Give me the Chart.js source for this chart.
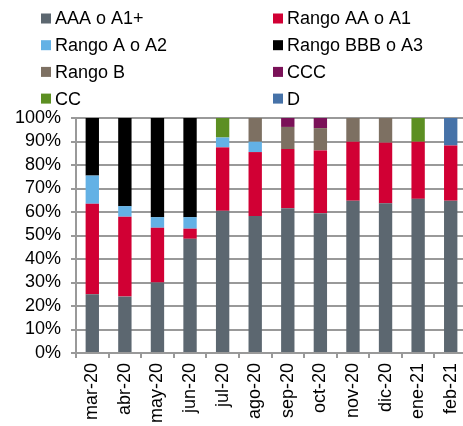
<!DOCTYPE html>
<html>
<head>
<meta charset="utf-8">
<script src="https://cdn.jsdelivr.net/npm/chart.js@4/dist/chart.umd.min.js"></script>
<style>
  html, body { margin: 0; padding: 0; background: #fff; overflow: hidden; }
</style>
</head>
<body>
<canvas id="grafico" width="467" height="426"></canvas>
<script>
// categorias y valores (% de la cartera por calificacion)
const meses = ['mar-20', 'abr-20', 'may-20', 'jun-20', 'jul-20', 'ago-20', 'sep-20', 'oct-20', 'nov-20', 'dic-20', 'ene-21', 'feb-21'];
const aaa = [25, 24, 30, 48.6, 60.5, 58.3, 61.6, 59.5, 64.8, 63.7, 65.6, 64.8];
const rangoAA = [38.5, 34, 23.3, 4.3, 27, 27.2, 25.2, 26.7, 25.1, 25.8, 24.3, 23.5];
const rangoA = [12, 4.5, 4.5, 4.9, 4.2, 4.4, 0, 0, 0, 0, 0, 0];
const rangoBBB = [24.5, 37.5, 42.2, 42.2, 0, 0, 0, 0, 0, 0, 0, 0];
const rangoB = [0, 0, 0, 0, 0, 10.1, 9.4, 9.5, 10.1, 10.5, 0, 0];
const ccc = [0, 0, 0, 0, 0, 0, 3.8, 4.3, 0, 0, 0, 0];
const cc = [0, 0, 0, 0, 8.3, 0, 0, 0, 0, 0, 10.1, 0];
const d = [0, 0, 0, 0, 0, 0, 0, 0, 0, 0, 0, 11.7];
const ticksY = [0, 10, 20, 30, 40, 50, 60, 70, 80, 90, 100];

Chart.defaults.font.family = '"Liberation Sans", Arial, sans-serif';
Chart.defaults.font.size = 18;
Chart.defaults.color = '#000';

const serie = (label, data, color) => ({
    label: label,
    data: data,
    backgroundColor: color,
    borderWidth: 0,
    barPercentage: 0.41,
    categoryPercentage: 1
});

// leyenda en dos columnas dibujada sobre el canvas
const leyenda = {
    id: 'leyenda',
    afterDraw(chart) {
        const c = chart.ctx;
        c.save();
        c.font = '18px "Liberation Sans", Arial, sans-serif';
        c.textBaseline = 'middle';
        chart.data.datasets.forEach((ds, i) => {
            const x = i % 2 === 0 ? 41 : 273;
            const y = 18.5 + Math.floor(i / 2) * 26.7;
            c.fillStyle = ds.backgroundColor;
            c.fillRect(x, y - 5, 10, 10);
            c.fillStyle = '#000';
            c.fillText(ds.label, x + 14, y + 1);
        });
        c.restore();
    }
};

const grafico = new Chart(document.getElementById('grafico'), {
    type: 'bar',
    data: {
        labels: meses,
        datasets: [
            serie('AAA o A1+', aaa, '#5C6770'),
            serie('Rango AA o A1', rangoAA, '#D10034'),
            serie('Rango A o A2', rangoA, '#63B1E5'),
            serie('Rango BBB o A3', rangoBBB, '#000000'),
            serie('Rango B', rangoB, '#7D7062'),
            serie('CCC', ccc, '#7A1158'),
            serie('CC', cc, '#5C8F22'),
            serie('D', d, '#4672A8')
        ]
    },
    options: {
        responsive: false,
        devicePixelRatio: 1,
        animation: false,
        layout: { padding: { top: 118, left: 0, right: 0, bottom: 0 } },
        plugins: {
            legend: { display: false },
            tooltip: { enabled: false }
        },
        scales: {
            x: {
                stacked: true,
                afterFit: s => { s.height = 73; s.paddingLeft = 0; s.paddingRight = 0; },
                grid: { drawOnChartArea: false, drawTicks: true, tickLength: 5, color: '#999', lineWidth: 2 },
                border: { color: '#999', width: 2 },
                ticks: { minRotation: 90, maxRotation: 90, autoSkip: false, padding: 5 }
            },
            y: {
                stacked: true,
                min: 0,
                max: 100,
                afterFit: s => { s.width = 76; },
                afterBuildTicks: s => { s.ticks = ticksY.map(v => ({ value: v })); },
                grid: { color: '#999', lineWidth: 2, tickLength: 5 },
                border: { color: '#999', width: 2 },
                ticks: { autoSkip: false, padding: 10, callback: v => v + '%' }
            }
        }
    },
    plugins: [leyenda]
});
</script>
</body>
</html>
